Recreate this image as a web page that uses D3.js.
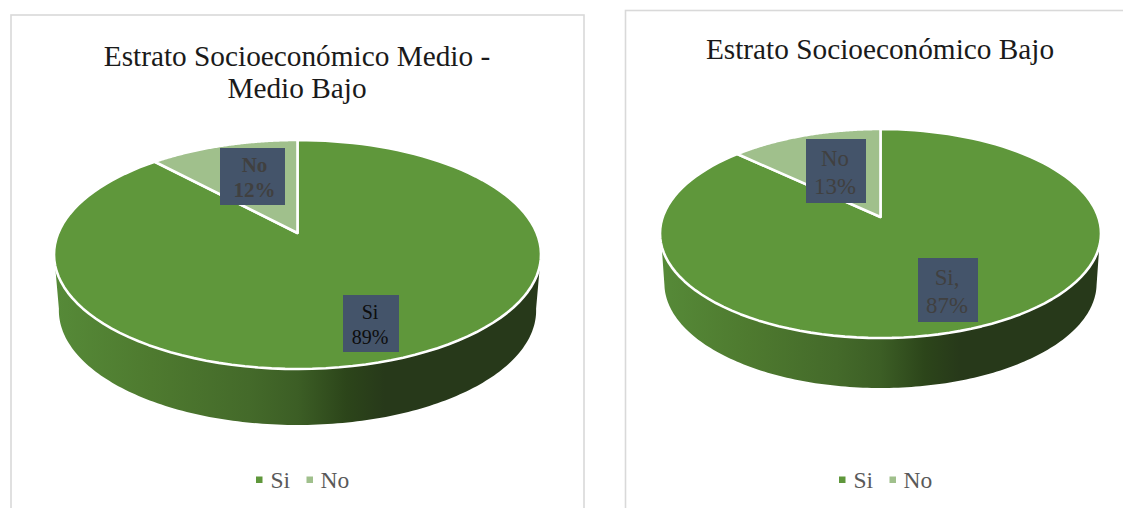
<!DOCTYPE html>
<html lang="es">
<head>
<meta charset="utf-8">
<style>
  html, body { margin: 0; padding: 0; background: #fff; overflow: hidden; }
  svg { display: block; }
  text { font-family: "Liberation Serif", "Times New Roman", serif; }
</style>
<script src="https://cdn.jsdelivr.net/npm/d3@7"></script>
</head>
<body>
<svg id="chart" width="1123" height="508"></svg>
<script>
// Survey shares per socioeconomic stratum
const categories = ["Si", "No"];
const valuesMedio = [89, 12];
const valuesBajo = [87, 13];
const labelsMedio = ["Si\n89%", "No\n12%"];
const labelsBajo = ["Si,\n87%", "No\n13%"];
const titleMedio = ["Estrato Socioeconómico Medio -", "Medio Bajo"];
const titleBajo = ["Estrato Socioeconómico Bajo"];

const sliceColors = ["#5f973b", "#a0c08c"];

// Placement of each panel: card, tilted disc outline, data labels, legend
const panels = [
  {
    id: "medio", values: valuesMedio, labels: labelsMedio, title: titleMedio,
    card: { x: 11, y: 15, w: 573, h: 510 },
    disc: { cx: 297.5, top: 140, apex: 233, bottom: 369, halfWidth: 243.5, depth: 56, shrink: 0.98 },
    titleX: 297, titleY: [66, 98],
    boxes: [
      { x: 343, y: 295, w: 56, h: 57, size: 20, fill: "#0d0d0d", weight: "normal", dx: -1 },
      { x: 220, y: 148, w: 65, h: 57, size: 21, fill: "#404040", weight: "bold", dx: 2 }
    ],
    legend: { y: 480, markers: [256, 306.5], texts: [270.5, 320.5] }
  },
  {
    id: "bajo", values: valuesBajo, labels: labelsBajo, title: titleBajo,
    card: { x: 625.5, y: 10.5, w: 520, h: 510 },
    disc: { cx: 880.5, top: 129, apex: 217, bottom: 338, halfWidth: 220.5, depth: 50, shrink: 0.98 },
    titleX: 880, titleY: [59],
    boxes: [
      { x: 918, y: 258, w: 60, h: 64, size: 22.8, fill: "#404040", weight: "normal", dx: -1 },
      { x: 806, y: 139, w: 60, h: 64, size: 22.8, fill: "#404040", weight: "normal", dx: -1 }
    ],
    legend: { y: 480, markers: [839, 889.5], texts: [853.5, 903.5] }
  }
];

const svg = d3.select("#chart");
const defs = svg.append("defs");

// Perspective mapping of a unit disc, fitted so its far, centre and near points
// land on the given rows and its widest point on the given half width.
function projector(d) {
  const c = (d.bottom + d.top - 2 * d.apex) / (d.bottom - d.top);
  const a = d.top * c + d.top - d.apex;
  const R = d.halfWidth * Math.sqrt(1 - c * c);
  return (angle, shrink = 1, drop = 0) => {
    const u = Math.sin(angle), v = Math.cos(angle);
    const den = 1 + c * v;
    return [d.cx + R * shrink * u / den, (d.apex + a * v) / den + drop];
  };
}

const degrees = (from, to) => d3.range(from, to + 0.5, 1).map(a => a * Math.PI / 180);
const pieLayout = d3.pie().sort(null).value(v => v).startAngle(0).endAngle(2 * Math.PI);
const pathLine = d3.line();

panels.forEach(p => {
  const g = svg.append("g").attr("id", p.id);

  g.append("rect")
    .attr("x", p.card.x).attr("y", p.card.y)
    .attr("width", p.card.w).attr("height", p.card.h)
    .attr("fill", "#fff").attr("stroke", "#d9d9d9").attr("stroke-width", 1.6);

  g.selectAll("text.title").data(p.title).join("text")
    .attr("class", "title")
    .attr("x", p.titleX)
    .attr("y", (t, i) => p.titleY[i])
    .attr("text-anchor", "middle")
    .attr("font-size", 29.3)
    .attr("fill", "#1a1a1a")
    .text(t => t);

  const project = projector(p.disc);
  const d = p.disc;

  // Side wall shading runs left to right across the disc
  const gradId = "wall-" + p.id;
  const grad = defs.append("linearGradient").attr("id", gradId)
    .attr("gradientUnits", "userSpaceOnUse")
    .attr("x1", d.cx - d.halfWidth).attr("x2", d.cx + d.halfWidth)
    .attr("y1", 0).attr("y2", 0);
  [[0, "#568a38"], [0.2, "#4e7a2f"], [0.4, "#446a2a"], [0.5, "#3c5e25"], [0.6, "#2c451a"], [0.68, "#27391a"], [1, "#27391a"]]
    .forEach(([o, col]) => grad.append("stop").attr("offset", o).attr("stop-color", col));

  // Wall: front of the top rim joined with the lowered rim below it
  const rimTop = degrees(106, 254).map(a => project(a));
  const rimLow = degrees(100, 260).map(a => project(a, d.shrink, d.depth)).reverse();
  g.append("path")
    .attr("d", pathLine(rimTop.concat(rimLow)) + "Z")
    .attr("fill", `url(#${gradId})`);

  // Top face of the pie, one wedge per category
  const arcs = pieLayout(p.values);
  g.selectAll("path.slice").data(arcs).join("path")
    .attr("class", "slice")
    .attr("d", s => {
      const steps = d3.range(0, 121).map(i => s.startAngle + (s.endAngle - s.startAngle) * i / 120);
      return pathLine([[d.cx, d.apex]].concat(steps.map(a => project(a)))) + "Z";
    })
    .attr("fill", (s, i) => sliceColors[i])
    .attr("stroke", "#fff")
    .attr("stroke-width", 2.6)
    .attr("stroke-linejoin", "round");

  // Data labels sit in slate boxes
  p.boxes.forEach((b, i) => {
    g.append("rect")
      .attr("x", b.x).attr("y", b.y).attr("width", b.w).attr("height", b.h)
      .attr("fill", "#44546a");
    const lines = p.labels[i].split("\n");
    g.selectAll(null).data(lines).join("text")
      .attr("x", b.x + b.w / 2 + b.dx)
      .attr("y", (t, j) => b.y + b.h * (j === 0 ? 0.42 : 0.86))
      .attr("text-anchor", "middle")
      .attr("font-size", b.size)
      .attr("font-weight", b.weight)
      .attr("fill", b.fill)
      .text(t => t);
  });

  // Legend
  categories.forEach((name, i) => {
    g.append("rect")
      .attr("x", p.legend.markers[i]).attr("y", p.legend.y - 3.5)
      .attr("width", 6.5).attr("height", 6.5)
      .attr("fill", sliceColors[i]);
    g.append("text")
      .attr("x", p.legend.texts[i]).attr("y", p.legend.y + 7.5)
      .attr("font-size", 23.5)
      .attr("fill", "#595959")
      .text(name);
  });
});
</script>
</body>
</html>
